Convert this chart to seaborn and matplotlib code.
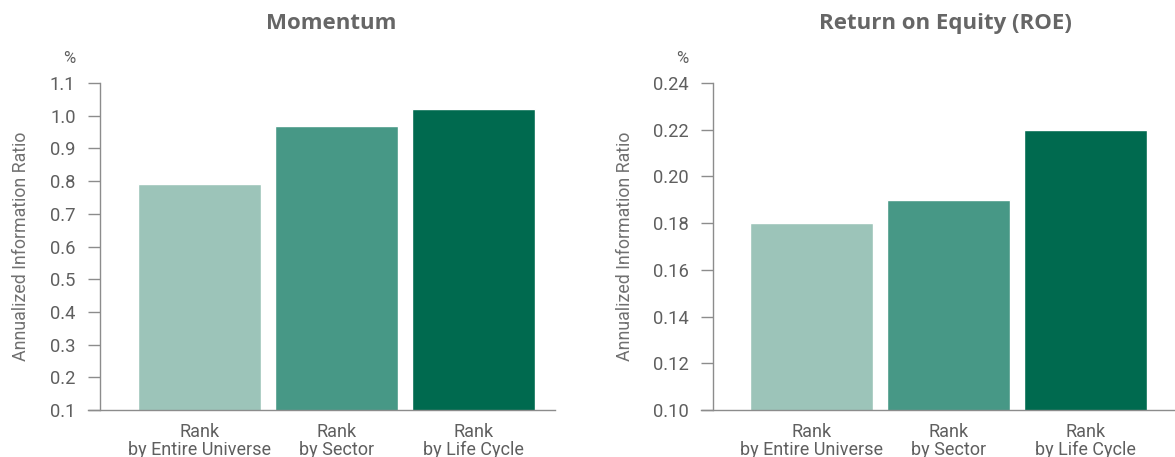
import matplotlib
matplotlib.use("Agg")
import matplotlib.pyplot as plt
import seaborn as sns
import pandas as pd

# Information ratios by ranking approach
categories = ["Rank\nby Entire Universe", "Rank\nby Sector", "Rank\nby Life Cycle"]
momentum_ir = [0.79, 0.97, 1.02]
roe_ir = [0.18, 0.19, 0.22]
momentum_ticks = [0.1, 0.2, 0.3, 0.4, 0.5, 0.6, 0.7, 0.8, 0.9, 1.0, 1.1]
roe_ticks = [0.10, 0.12, 0.14, 0.16, 0.18, 0.20, 0.22, 0.24]
bar_colors = ["#9cc4b9", "#479886", "#006a4f"]

sns.set_theme(style="white")
plt.rcParams["font.family"] = ["Roboto", "DejaVu Sans"]

TEXT = "#5f5f5f"
AXIS = "#8c8c8c"

fig = plt.figure(figsize=(11.75, 4.57), dpi=100)

panels = [
    dict(title="Momentum", values=momentum_ir, ticks=momentum_ticks, fmt="{:.1f}",
         rect=[0.0749, 0.1028, 0.3974, 0.7155], xlim=(-0.814, 2.595), spine_x=-0.726,
         title_x=0.52, ylabel_x=-0.124),
    dict(title="Return on Equity (ROE)", values=roe_ir, ticks=roe_ticks, fmt="{:.2f}",
         rect=[0.5966, 0.1028, 0.4034, 0.7155], xlim=(-0.807, 2.653), spine_x=-0.719,
         title_x=0.515, ylabel_x=-0.141),
]

for p in panels:
    ax = fig.add_axes(p["rect"])
    df = pd.DataFrame({"category": categories, "value": p["values"]})
    sns.barplot(data=df, x="category", y="value", hue="category", palette=bar_colors,
                width=0.9, saturation=1, legend=False, ax=ax)
    ax.set_xlim(*p["xlim"])
    ax.set_ylim(p["ticks"][0], p["ticks"][-1])
    ax.set_yticks(p["ticks"])
    ax.set_yticklabels([p["fmt"].format(t) for t in p["ticks"]])

    for side in ("top", "right"):
        ax.spines[side].set_visible(False)
    ax.spines["left"].set_position(("data", p["spine_x"]))
    ax.spines["left"].set_color(AXIS)
    ax.spines["left"].set_linewidth(1.0)
    ax.spines["bottom"].set_color(AXIS)
    ax.spines["bottom"].set_linewidth(1.0)

    ax.tick_params(axis="y", which="major", left=True, length=8.6, width=1.0,
                   color=AXIS, pad=9.0, labelsize=13.2, labelcolor=TEXT)
    ax.tick_params(axis="x", bottom=False, pad=3, labelsize=13, labelcolor=TEXT)
    for lbl in ax.get_xticklabels():
        lbl.set_linespacing(1.02)

    ax.set_xlabel("")
    ax.set_ylabel("Annualized Information Ratio", fontsize=12.8, color="#707070")
    ax.yaxis.set_label_coords(p["ylabel_x"], 0.5)
    ax.set_title(p["title"], fontsize=16, fontweight="bold", color="#666666",
                 family=["Open Sans", "DejaVu Sans"], x=p["title_x"], pad=39)

    ax.annotate("%", xy=(p["spine_x"], p["ticks"][-1]), xycoords="data",
                xytext=(-25, 25), textcoords="offset pixels",
                ha="right", va="center", fontsize=12, color=TEXT)

fig.savefig("out.png", dpi=100)
